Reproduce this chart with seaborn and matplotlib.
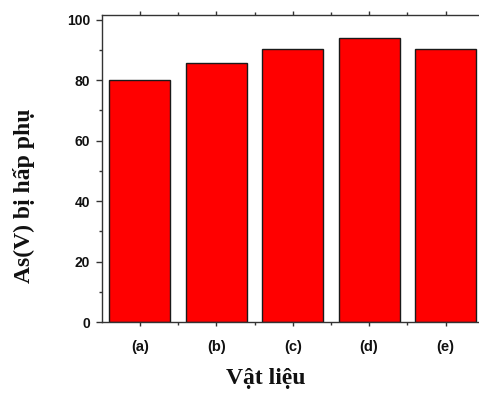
import matplotlib
matplotlib.use("Agg")
import matplotlib.pyplot as plt
from matplotlib.ticker import MultipleLocator, FixedLocator
import seaborn as sns
import pandas as pd

materials = ["(a)", "(b)", "(c)", "(d)", "(e)"]
adsorbed = [80.1, 85.6, 90.4, 94.0, 90.2]
y_ticks = [0, 20, 40, 60, 80, 100]

sns.set_theme(style="ticks")
plt.rcParams["font.family"] = ["Liberation Sans", "DejaVu Sans"]

df = pd.DataFrame({"material": materials, "value": adsorbed})

fig = plt.figure(figsize=(4.79, 3.95), dpi=100)
ax = fig.add_axes([101.7 / 479, 73 / 395, 382 / 479, 307 / 395])

sns.barplot(data=df, x="material", y="value", color="#ff0000", saturation=1,
            edgecolor="#1a1a1a", linewidth=1.0, width=0.8, ax=ax)

ax.set_xlim(-0.5, 4.5)
ax.set_ylim(0, 101.5)
ax.set_yticks(y_ticks)
ax.yaxis.set_minor_locator(MultipleLocator(10))
ax.xaxis.set_minor_locator(FixedLocator([0.5, 1.5, 2.5, 3.5]))

for s in ax.spines.values():
    s.set_visible(True)
    s.set_color("#333333")
    s.set_linewidth(1.0)

ax.tick_params(axis="y", which="major", direction="out", length=4, width=1,
               color="#333333", labelsize=10, pad=4.5)
ax.tick_params(axis="y", which="minor", direction="out", length=2.2, width=1,
               color="#333333")
ax.tick_params(axis="x", which="major", direction="out", length=3, width=1,
               color="#333333", labelsize=10.5, pad=10, top=True)
ax.tick_params(axis="x", which="minor", direction="out", length=2, width=1,
               color="#333333", top=True)
for lab in ax.get_xticklabels() + ax.get_yticklabels():
    lab.set_fontweight("bold")
    lab.set_color("#111111")

ax.set_xlabel("Vật liệu", family=["Liberation Serif", "DejaVu Serif"],
              fontweight="bold", fontsize=17, color="#111111")
ax.xaxis.set_label_coords(0.43, -0.15)
ax.set_ylabel("As(V) bị hấp phụ", family=["Liberation Serif", "DejaVu Serif"],
              fontweight="bold", fontsize=17, color="#111111")
ax.yaxis.set_label_coords(-0.175, 0.41)

fig.savefig("out.png", dpi=100)
